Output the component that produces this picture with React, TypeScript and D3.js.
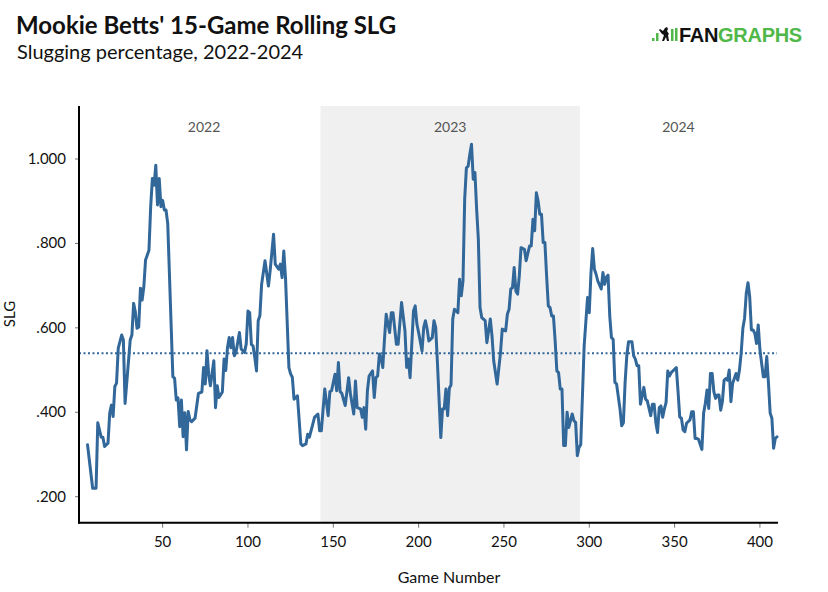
import * as d3 from "d3";

// ---------------------------------------------------------------------------
// Data: 15-game rolling SLG by game number
// ---------------------------------------------------------------------------

const GAMES = [
  6, 9, 11, 12, 14, 15, 16, 18, 19, 20, 21, 22, 23, 24, 26, 27, 28, 31, 32, 33,
  34, 35, 36, 37, 38, 39, 40, 42, 43, 44, 45, 46, 47, 48, 49, 50, 51, 52, 53, 56,
  57, 58, 59, 60, 61, 62, 63, 64, 65, 66, 67, 69, 71, 73, 74, 75, 76, 77, 78, 80,
  81, 82, 83, 85, 86, 87, 88, 89, 90, 91, 92, 93, 95, 96, 98, 99, 100, 101, 102, 103,
  104, 105, 106, 107, 108, 110, 112, 113, 115, 116, 118, 119, 120, 121, 122, 124, 125, 126, 127, 129,
  131, 132, 134, 135, 136, 138, 139, 141, 142, 143, 145, 147, 148, 149, 151, 152, 153, 154, 155, 157,
  159, 160, 162, 163, 164, 166, 167, 168, 169, 170, 171, 173, 174, 175, 176, 177, 178, 179, 180, 181,
  183, 184, 185, 187, 188, 190, 192, 193, 194, 195, 197, 198, 199, 200, 202, 203, 204, 205, 206, 208,
  209, 210, 211, 213, 214, 215, 216, 217, 218, 219, 220, 221, 223, 224, 225, 226, 227, 228, 229, 230,
  231, 232, 233, 234, 235, 236, 237, 239, 240, 242, 243, 244, 246, 248, 249, 251, 252, 253, 254, 255,
  256, 257, 258, 259, 260, 262, 263, 265, 266, 267, 268, 269, 270, 271, 272, 273, 274, 275, 276, 277,
  278, 279, 280, 281, 282, 283, 284, 285, 286, 287, 288, 290, 291, 292, 293, 294, 295, 297, 299, 300,
  301, 302, 303, 304, 305, 307, 308, 309, 310, 311, 312, 313, 314, 315, 316, 318, 319, 320, 321, 322,
  323, 325, 326, 327, 328, 329, 330, 331, 332, 333, 334, 336, 337, 338, 339, 340, 341, 342, 343, 344,
  345, 346, 347, 348, 350, 351, 352, 353, 354, 355, 356, 357, 359, 360, 361, 362, 363, 364, 366, 367,
  368, 369, 370, 371, 372, 373, 374, 375, 376, 377, 378, 379, 380, 381, 382, 383, 384, 385, 386, 387,
  388, 389, 390, 391, 392, 393, 394, 395, 396, 397, 398, 399, 400, 401, 402, 403, 404, 405, 406, 407,
  408, 409, 410,
];

const SLG = [
  .323, .220, .220, .375, .341, .341, .319, .327, .398, .417, .390, .461, .469, .552, .583, .571, .421, .571, .583, .658,
  .638, .599, .602, .694, .666, .698, .761, .784, .887, .954, .938, .985, .891, .954, .887, .902, .879, .879, .847, .484,
  .481, .429, .434, .366, .429, .342, .399, .311, .402, .382, .378, .386, .445, .448, .506, .467, .546, .489, .463, .522,
  .411, .463, .435, .448, .526, .499, .553, .577, .553, .577, .534, .542, .589, .550, .542, .562, .640, .636, .561, .557,
  .530, .498, .617, .629, .703, .759, .699, .735, .822, .751, .739, .751, .719, .782, .719, .506, .491, .483, .431, .439,
  .325, .321, .325, .348, .341, .372, .388, .396, .356, .356, .455, .392, .449, .451, .490, .451, .518, .449, .445, .416,
  .482, .445, .396, .474, .411, .408, .388, .411, .360, .451, .486, .498, .435, .482, .486, .538, .530, .506, .573, .632,
  .589, .636, .636, .561, .561, .660, .593, .506, .526, .482, .640, .652, .609, .589, .545, .601, .617, .597, .569, .577,
  .617, .601, .520, .340, .408, .408, .455, .392, .457, .465, .621, .644, .636, .715, .676, .711, .905, .979, .983, 1.011,
  1.035, .952, .968, .881, .810, .648, .624, .617, .565, .621, .581, .522, .467, .542, .597, .593, .632, .644, .692, .695,
  .743, .687, .680, .723, .790, .786, .759, .794, .794, .857, .830, .920, .901, .869, .869, .802, .802, .723, .652, .648,
  .628, .628, .569, .498, .494, .455, .455, .321, .321, .400, .364, .396, .380, .376, .297, .317, .323, .557, .672, .636,
  .731, .788, .739, .727, .711, .692, .731, .703, .720, .725, .628, .577, .573, .471, .467, .408, .368, .375, .471, .534,
  .567, .567, .534, .526, .510, .510, .419, .439, .459, .431, .427, .392, .419, .419, .376, .352, .411, .415, .388, .408,
  .423, .498, .486, .494, .502, .506, .450, .389, .386, .358, .354, .374, .382, .401, .401, .338, .338, .336, .312, .398,
  .421, .453, .409, .492, .492, .449, .433, .441, .441, .405, .425, .476, .480, .476, .500, .425, .469, .480, .492, .476,
  .500, .540, .599, .623, .682, .707, .674, .595, .595, .587, .563, .607, .548, .516, .484, .484, .532, .469, .398, .386,
  .315, .338, .342,
];

const AVERAGE_SLG = 0.54;

const YEARS = ["2022", "2023", "2024"];
const YEAR_FIRST_GAME = [6, 142.5, 294.5];
const YEAR_LAST_GAME = [142.5, 294.5, 410];
const SHADED_YEAR = "2023";

const Y_TICKS = [0.2, 0.4, 0.6, 0.8, 1.0];

const TITLE = "Mookie Betts' 15-Game Rolling SLG";
const SUBTITLE = "Slugging percentage, 2022-2024";

// ---------------------------------------------------------------------------
// Layout
// ---------------------------------------------------------------------------

const W = 828;
const H = 592;
const LEFT = 79;
const RIGHT = 777;
const TOP = 106;
const BOTTOM = 522.7;

const LINE_COLOR = "#32679a";
const GREEN = "#50b848";
const FONT = "Lato, 'Open Sans', sans-serif";

function fmtSlg(v: number): string {
  const s = v.toFixed(3);
  return s.startsWith("0") ? s.slice(1) : s;
}

export default function App() {
  const x = d3.scaleLinear().domain([1, 410]).range([LEFT, RIGHT]);
  const y = d3.scaleLinear().domain([0.1384, 1.1256]).range([BOTTOM, TOP]);

  const points = GAMES.map((g, i) => [g, SLG[i]] as [number, number]);
  const line = d3
    .line<[number, number]>()
    .x((d) => x(d[0]))
    .y((d) => y(d[1]));

  const xTicks = x.ticks(10).filter((t) => t >= 50);

  return (
    <svg
      width={W}
      height={H}
      style={{ position: "absolute", left: 0, top: 0, background: "#fff" }}
      fontFamily={FONT}
    >
      {/* ---- Header ---- */}
      <text x={16} y={34} fontSize={24} fontWeight={700} fill="#111">
        {TITLE}
      </text>
      <text x={17} y={59} fontSize={20} fill="#111">
        {SUBTITLE}
      </text>

      {/* ---- FanGraphs logo ---- */}
      <g>
        <rect x={652} y={38} width={2.5} height={3} fill={GREEN} />
        <rect x={656} y={33} width={2.5} height={8} fill={GREEN} />
        <rect x={671} y={29} width={2.5} height={12} fill={GREEN} />
        <rect x={675} y={28} width={2.5} height={13} fill={GREEN} />
        <path
          d="M665 28 l2 -1 l1 2 l-1 2 l2 3 l-1 1 l1 6 h-2 l-1 -4 l-2 4 h-2 l2 -6 l-2 -1 l-3 -4 l1 -1 l3 2 z"
          fill="#111"
        />
        <text
          x={679}
          y={42}
          fontFamily="'Liberation Sans', Arial, sans-serif"
          fontWeight={700}
          fontSize={20}
          letterSpacing={-0.3}
        >
          <tspan fill="#111">FAN</tspan>
          <tspan fill={GREEN}>GRAPHS</tspan>
        </text>
      </g>

      {/* ---- Shaded year band ---- */}
      {YEARS.map((yr, i) =>
        yr === SHADED_YEAR ? (
          <rect
            key={yr}
            x={x(YEAR_FIRST_GAME[i])}
            y={TOP}
            width={x(YEAR_LAST_GAME[i]) - x(YEAR_FIRST_GAME[i])}
            height={BOTTOM - TOP}
            fill="#f0f0f0"
          />
        ) : null
      )}

      {/* ---- Year labels ---- */}
      {YEARS.map((yr, i) => (
        <text
          key={yr}
          x={x((YEAR_FIRST_GAME[i] + YEAR_LAST_GAME[i]) / 2)}
          y={131.5}
          textAnchor="middle"
          fontSize={14}
          fill="#555"
        >
          {yr}
        </text>
      ))}

      {/* ---- Average line ---- */}
      <line
        x1={LEFT}
        x2={RIGHT}
        y1={y(AVERAGE_SLG)}
        y2={y(AVERAGE_SLG)}
        stroke={LINE_COLOR}
        strokeWidth={2}
        strokeDasharray="2,2.5"
      />

      {/* ---- Rolling SLG ---- */}
      <path
        d={line(points) ?? ""}
        fill="none"
        stroke={LINE_COLOR}
        strokeWidth={3}
        strokeLinejoin="round"
        strokeLinecap="round"
      />

      {/* ---- Y axis ---- */}
      {Y_TICKS.map((t) => (
        <g key={t}>
          <line x1={LEFT - 4} x2={LEFT} y1={y(t)} y2={y(t)} stroke="#777" strokeWidth={1} />
          <text x={66} y={y(t) + 5} textAnchor="end" fontSize={15} fill="#111">
            {fmtSlg(t)}
          </text>
        </g>
      ))}
      <line x1={LEFT} x2={LEFT} y1={TOP} y2={BOTTOM + 1} stroke="#000" strokeWidth={2} />
      <text
        transform={`translate(15,314) rotate(-90)`}
        textAnchor="middle"
        fontSize={15}
        fill="#111"
      >
        SLG
      </text>

      {/* ---- X axis ---- */}
      {xTicks.map((t) => (
        <g key={t}>
          <line x1={x(t)} x2={x(t)} y1={BOTTOM} y2={BOTTOM + 5} stroke="#777" strokeWidth={1} />
          <text x={x(t)} y={547} textAnchor="middle" fontSize={15} fill="#111">
            {t}
          </text>
        </g>
      ))}
      <line x1={LEFT - 1} x2={RIGHT + 1} y1={BOTTOM} y2={BOTTOM} stroke="#000" strokeWidth={2} />
      <text x={449} y={583} textAnchor="middle" fontSize={16} fill="#111">
        Game Number
      </text>
    </svg>
  );
}
